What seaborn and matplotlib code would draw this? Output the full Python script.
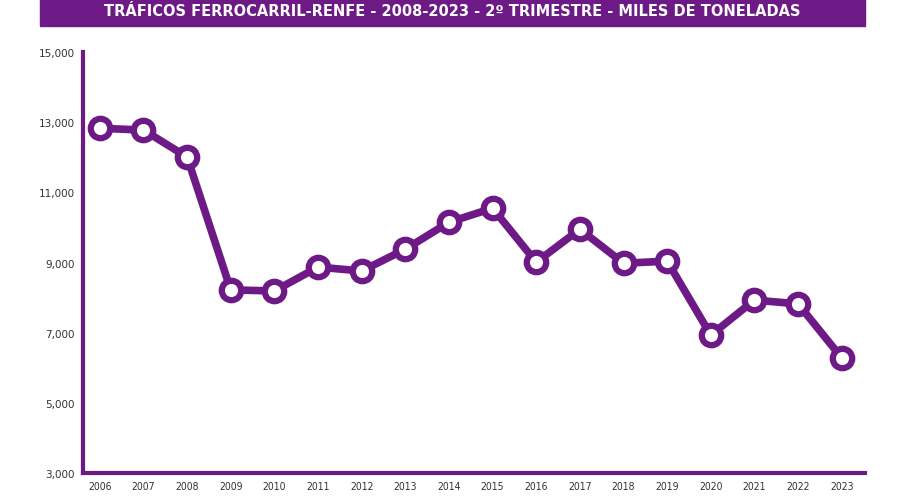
import matplotlib
matplotlib.use("Agg")
import matplotlib.pyplot as plt
import seaborn as sns
import pandas as pd

years = list(range(2006, 2024))
values = [12830, 12780, 12010, 8220, 8190, 8870, 8760, 9380, 10150, 10550,
          9010, 9950, 8980, 9040, 6930, 7930, 7820, 6280]
yticks = [3000, 5000, 7000, 9000, 11000, 13000, 15000]
title = "TRÁFICOS FERROCARRIL-RENFE - 2008-2023 - 2º TRIMESTRE - MILES DE TONELADAS"
purple = "#6E1A86"

df = pd.DataFrame({"year": years, "value": values})
fig = plt.figure(figsize=(9, 5.02), dpi=100)
ax = fig.add_axes([0.092, 0.056, 0.869, 0.838])
sns.lineplot(data=df, x="year", y="value", ax=ax, color=purple, linewidth=5.5,
             marker="o", markersize=14, markerfacecolor="white",
             markeredgecolor=purple, markeredgewidth=4.5)
ax.set_xlim(2005.61, 2023.53)
ax.set_ylim(3000, 15000)
ax.set_xticks(years)
ax.set_xticklabels([str(y) for y in years], fontsize=7.5, family="DejaVu Sans", stretch="condensed")
ax.set_yticks(yticks)
ax.set_yticklabels([f"{v:,}" for v in yticks], fontsize=7.5)
ax.tick_params(length=0, pad=6, colors="#333333")
ax.set_xlabel(""); ax.set_ylabel("")
for s in ["top", "right"]:
    ax.spines[s].set_visible(False)
ax.spines["left"].set_color(purple); ax.spines["left"].set_linewidth(3)
ax.spines["bottom"].set_color(purple); ax.spines["bottom"].set_linewidth(3)
fig.patches.append(matplotlib.patches.Rectangle((40/900, 1-27/502), 825/900, 27/502,
                   transform=fig.transFigure, color=purple, zorder=0))
fig.text(452/900, 1-12/502, title, ha="center", va="center", color="white",
         fontsize=10.5, fontweight="bold")
fig.savefig("out.png", dpi=100)
